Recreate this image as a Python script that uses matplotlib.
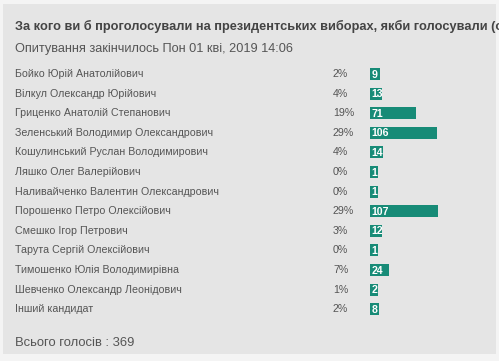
import matplotlib
matplotlib.use("Agg")
import matplotlib.pyplot as plt
from matplotlib.patches import Rectangle

plt.rcParams['font.family'] = ['Liberation Sans', 'DejaVu Sans']

title = "За кого ви б проголосували на президентських виборах, якби голосували (о"
subtitle = "Опитування закінчилось Пон 01 кві, 2019 14:06"
candidates = [
    "Бойко Юрій Анатолійович",
    "Вілкул Олександр Юрійович",
    "Гриценко Анатолій Степанович",
    "Зеленський Володимир Олександрович",
    "Кошулинський Руслан Володимирович",
    "Ляшко Олег Валерійович",
    "Наливайченко Валентин Олександрович",
    "Порошенко Петро Олексійович",
    "Смешко Ігор Петрович",
    "Тарута Сергій Олексійович",
    "Тимошенко Юлія Володимирівна",
    "Шевченко Олександр Леонідович",
    "Інший кандидат",
]
percents = [2, 4, 19, 29, 4, 0, 0, 29, 3, 0, 7, 1, 2]
votes = [9, 13, 71, 106, 14, 1, 1, 107, 12, 1, 24, 2, 8]
total = 369

W, H = 499, 361
fig = plt.figure(figsize=(W / 100, H / 100), dpi=100)
fig.patch.set_facecolor('#f4f4f4')
ax = fig.add_axes([0, 0, 1, 1])
ax.set_xlim(0, W)
ax.set_ylim(H, 0)
ax.axis('off')

# panel
ax.add_patch(Rectangle((3, 4), 493, 350, facecolor='#e5e5e5', edgecolor='none', zorder=0))

txt = '#555555'
ax.text(15, 26, title, fontsize=9.2, fontweight='bold', color='#444444', va='center', ha='left')
ax.text(15, 49, subtitle, fontsize=9.2, color=txt, va='center', ha='left')

bar_x = 370
for i, (name, p, v) in enumerate(zip(candidates, percents, votes)):
    y = 74 + i * 19.6
    ax.text(15, y, name, fontsize=7.7, color=txt, va='center', ha='left')
    ax.text(333, y, f"{p}%", fontsize=7.7, color=txt, va='center', ha='left')
    w = max(8, 4.5 + 0.59 * v)
    bar = ax.barh(y, w, left=bar_x, height=12, color='#178b77', zorder=2)[0]
    t = ax.text(bar_x + 1.5, y + 0.5, str(v), fontsize=7.6, fontweight='bold',
                color='white', va='center', ha='left', zorder=3)
    t.set_clip_path(bar)

ax.text(15, 343, f"Всього голосів : {total}", fontsize=9.4, color=txt, va='center', ha='left')

fig.savefig('out.png', dpi=100, facecolor=fig.get_facecolor())
